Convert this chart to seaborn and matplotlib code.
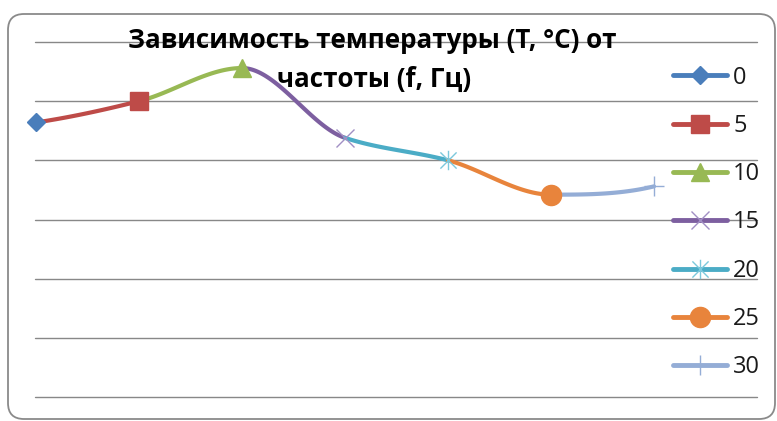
import numpy as np
import pandas as pd
import matplotlib
matplotlib.use("Agg")
import matplotlib.pyplot as plt
from matplotlib.lines import Line2D
from matplotlib.path import Path
from matplotlib.patches import FancyBboxPatch
from matplotlib.transforms import IdentityTransform
import seaborn as sns

# Series labels (frequency, Hz) and temperatures (°C)
freq_labels = ["0", "5", "10", "15", "20", "25", "30"]
temperature = [23.2, 25.0, 27.8, 21.9, 20.0, 17.1, 17.8]
y_ticks = [0, 5, 10, 15, 20, 25, 30]

colors = ["#4A7EBB", "#BE4B48", "#98B954", "#7D5FA0", "#4BACC6", "#E8843C", "#94ADD6"]
marker_colors = ["#4A7EBB", "#BE4B48", "#98B954", "#A18FC4", "#7CC8DC", "#E8843C", "#94ADD6"]

W, H, DPI = 777, 421, 100

sns.set_theme(style="white")
plt.rcParams["font.family"] = ["Open Sans", "DejaVu Sans"]


def pchip(x, y, xs):
    """Shape-preserving piecewise cubic interpolation for a smoothed line."""
    x = np.asarray(x, float)
    y = np.asarray(y, float)
    h = np.diff(x)
    d = np.diff(y) / h
    n = len(x)
    m = np.zeros(n)
    for k in range(1, n - 1):
        if d[k - 1] * d[k] > 0:
            w1 = 2 * h[k] + h[k - 1]
            w2 = h[k] + 2 * h[k - 1]
            m[k] = (w1 + w2) / (w1 / d[k - 1] + w2 / d[k])

    def end_slope(h0, h1, d0, d1):
        s = ((2 * h0 + h1) * d0 - h0 * d1) / (h0 + h1)
        if np.sign(s) != np.sign(d0):
            return 0.0
        if np.sign(d0) != np.sign(d1) and abs(s) > abs(3 * d0):
            return 3 * d0
        return s

    m[0] = end_slope(h[0], h[1], d[0], d[1])
    m[-1] = end_slope(h[-1], h[-2], d[-1], d[-2])
    idx = np.clip(np.searchsorted(x, xs) - 1, 0, n - 2)
    t = (xs - x[idx]) / h[idx]
    h00 = 2 * t**3 - 3 * t**2 + 1
    h10 = t**3 - 2 * t**2 + t
    h01 = -2 * t**3 + 3 * t**2
    h11 = t**3 - t**2
    return h00 * y[idx] + h10 * h[idx] * m[idx] + h01 * y[idx + 1] + h11 * h[idx] * m[idx + 1]


xpos = np.arange(len(freq_labels))

# Smoothed curve, split into segments; each segment belongs to the series at its end
rows = []
for i in range(1, len(xpos)):
    xs = np.linspace(xpos[i - 1], xpos[i], 60)
    ys = pchip(xpos, temperature, xs)
    for a, b in zip(xs, ys):
        rows.append({"x": a, "T": b, "series": freq_labels[i]})
curve = pd.DataFrame(rows)

asterisk = Path([(-1, -1), (1, 1), (-1, 1), (1, -1), (0, -1.2), (0, 1.2)],
                [Path.MOVETO, Path.LINETO, Path.MOVETO, Path.LINETO, Path.MOVETO, Path.LINETO])

marker_style = [
    dict(marker="D", markersize=9.5),
    dict(marker="s", markersize=13),
    dict(marker="^", markersize=13),
    dict(marker="x", markersize=13, markeredgewidth=1.0),
    dict(marker=asterisk, markersize=14, markeredgewidth=1.0),
    dict(marker="o", markersize=14.5),
    dict(marker="+", markersize=15, markeredgewidth=1.0),
]

fig = plt.figure(figsize=(W / DPI, H / DPI), dpi=DPI)
fig.patch.set_facecolor("white")

ax = fig.add_axes([35 / W, 24 / H, (757 - 35) / W, 355 / H])
ax.set_facecolor("none")

sns.lineplot(data=curve, x="x", y="T", hue="series", hue_order=freq_labels[1:],
             palette=colors[1:], linewidth=3.0, sort=False, legend=False,
             estimator=None, ax=ax, zorder=3)

for i, lab in enumerate(freq_labels):
    st = dict(marker_style[i])
    filled = st["marker"] in ("D", "s", "^", "o")
    ax.plot([xpos[i]], [temperature[i]], linestyle="none",
            color=marker_colors[i],
            markerfacecolor=marker_colors[i] if filled else "none",
            markeredgecolor=marker_colors[i], zorder=4, clip_on=False, **st)

ax.set_xlim(-0.01, 7.0)
ax.set_ylim(0, 30)
ax.set_yticks(y_ticks)
ax.set_xticks([])
ax.yaxis.grid(True, color="#888888", linewidth=1.0)
ax.set_axisbelow(True)
ax.tick_params(left=False, bottom=False, labelleft=False, labelbottom=False)
ax.set_xlabel("")
ax.set_ylabel("")
for sp in ax.spines.values():
    sp.set_visible(False)
for gl in ax.get_ygridlines():
    gl.set_clip_on(False)

# Legend entries: line with marker in the middle
handles = []
for i, lab in enumerate(freq_labels):
    st = dict(marker_style[i])
    filled = st["marker"] in ("D", "s", "^", "o")
    handles.append(Line2D([0], [1], color=colors[i], linewidth=3.5,
                          markerfacecolor=marker_colors[i] if filled else "none",
                          markeredgecolor=marker_colors[i], **st))
leg = fig.legend(handles, freq_labels, loc="upper left",
                 bbox_to_anchor=(673 / W, 1 - 65.5 / H), frameon=False,
                 fontsize=17, handlelength=2.3, handletextpad=0.25,
                 labelspacing=1.03, borderpad=0, borderaxespad=0, numpoints=1)
for t in leg.get_texts():
    t.set_color("#1a1a1a")

# Title, two lines
fig.text(372 / W, 1 - 48 / H, "Зависимость температуры (T, °C) от",
         ha="center", va="baseline", fontsize=18.7, fontweight="bold", color="black")
fig.text(374 / W, 1 - 87 / H, "частоты (f, Гц)",
         ha="center", va="baseline", fontsize=18.7, fontweight="bold", color="black")

# Rounded chart border
border = FancyBboxPatch((8, H - 419), 767, 405,
                        boxstyle="round,pad=0,rounding_size=16",
                        transform=IdentityTransform(), facecolor="none",
                        edgecolor="#8a8a8a", linewidth=1.3)
fig.patches.append(border)

fig.savefig("out.png", dpi=DPI)
